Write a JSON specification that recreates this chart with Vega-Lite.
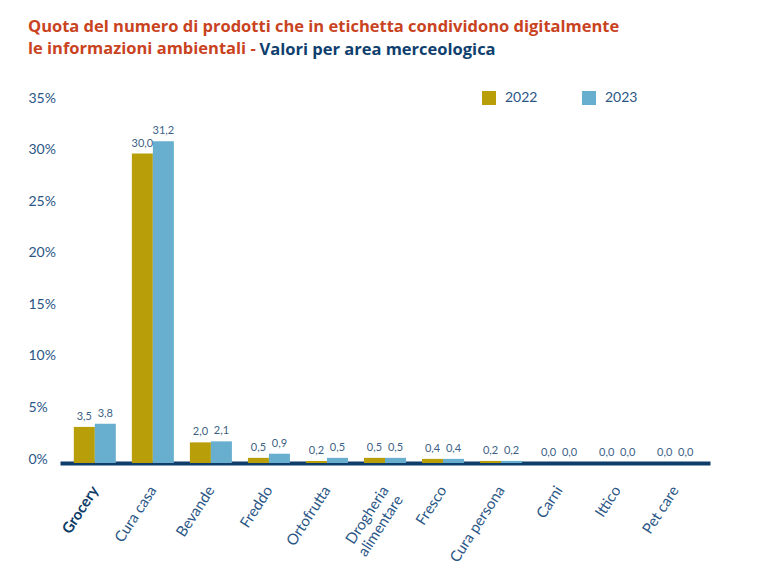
{
  "$schema": "https://vega.github.io/schema/vega-lite/v6.json",
  "autosize": {"type": "none"},
  "padding": {"left": 60, "top": 102, "right": 49, "bottom": 118},
  "width": 650,
  "height": 361,
  "background": "white",
  "config": {
    "locale": {"number": {"decimal": ",", "thousands": ".", "grouping": [3], "currency": ["€", ""]}},
    "font": "Lato",
    "view": {"stroke": null}
  },
  "title": {
    "text": ["Quota del numero di prodotti che in etichetta condividono digitalmente", "le informazioni ambientali -"],
    "subtitle": "\u200b\u00a0\u00a0\u00a0\u00a0\u00a0\u00a0\u00a0\u00a0\u00a0\u00a0\u00a0\u00a0\u00a0\u00a0\u00a0\u00a0\u00a0\u00a0\u00a0\u00a0\u00a0\u00a0\u00a0\u00a0\u00a0\u00a0\u00a0\u00a0\u00a0\u00a0\u00a0\u00a0\u00a0\u00a0\u00a0\u00a0\u00a0\u00a0\u00a0\u00a0\u00a0\u00a0\u00a0\u00a0\u00a0\u00a0\u00a0\u00a0\u00a0\u00a0\u00a0\u00a0\u00a0\u00a0Valori per area merceologica",
    "anchor": "start",
    "frame": "group",
    "dx": -32,
    "offset": 33,
    "font": "Open Sans",
    "fontSize": 16.5,
    "fontWeight": "bold",
    "color": "#c9431f",
    "lineHeight": 22,
    "subtitleFont": "Open Sans",
    "subtitleFontSize": 16.5,
    "subtitleFontWeight": "bold",
    "subtitleColor": "#0f3f6e",
    "subtitlePadding": -16
  },
  "data": {
    "values": [
      {"cat": "Grocery", "year": "2022", "value": 3.5},
      {"cat": "Grocery", "year": "2023", "value": 3.8},
      {"cat": "Cura casa", "year": "2022", "value": 30.0},
      {"cat": "Cura casa", "year": "2023", "value": 31.2},
      {"cat": "Bevande", "year": "2022", "value": 2.0},
      {"cat": "Bevande", "year": "2023", "value": 2.1},
      {"cat": "Freddo", "year": "2022", "value": 0.5},
      {"cat": "Freddo", "year": "2023", "value": 0.9},
      {"cat": "Ortofrutta", "year": "2022", "value": 0.2},
      {"cat": "Ortofrutta", "year": "2023", "value": 0.5},
      {"cat": "Drogheria alimentare", "year": "2022", "value": 0.5},
      {"cat": "Drogheria alimentare", "year": "2023", "value": 0.5},
      {"cat": "Fresco", "year": "2022", "value": 0.4},
      {"cat": "Fresco", "year": "2023", "value": 0.4},
      {"cat": "Cura persona", "year": "2022", "value": 0.2},
      {"cat": "Cura persona", "year": "2023", "value": 0.2},
      {"cat": "Carni", "year": "2022", "value": 0.0},
      {"cat": "Carni", "year": "2023", "value": 0.0},
      {"cat": "Ittico", "year": "2022", "value": 0.0},
      {"cat": "Ittico", "year": "2023", "value": 0.0},
      {"cat": "Pet care", "year": "2022", "value": 0.0},
      {"cat": "Pet care", "year": "2023", "value": 0.0}
    ]
  },
  "encoding": {
    "x": {
      "field": "cat",
      "type": "nominal",
      "sort": null,
      "scale": {"paddingInner": 0.276, "paddingOuter": 0.238},
      "axis": {
        "title": null,
        "labelAngle": -57,
        "labelFont": "Lato",
        "labelFontSize": 15,
        "labelColor": {"condition": {"test": "datum.value === 'Grocery'", "value": "#0d3b66"}, "value": "#2a5686"},
        "labelFontWeight": {"condition": {"test": "datum.value === 'Grocery'", "value": "bold"}, "value": "normal"},
        "labelExpr": "datum.label === 'Drogheria alimentare' ? ['Drogheria', 'alimentare'] : datum.label",
        "labelLineHeight": 17,
        "labelPadding": 24,
        "ticks": false,
        "domainColor": "#0f3d6b",
        "domainWidth": 4,
        "labelOverlap": false
      }
    },
    "xOffset": {"field": "year", "type": "nominal", "sort": ["2022", "2023"]},
    "y": {
      "field": "value",
      "type": "quantitative",
      "scale": {"domain": [0, 35]},
      "axis": {
        "title": null,
        "values": [0, 5, 10, 15, 20, 25, 30, 35],
        "labelExpr": "datum.value + '%'",
        "labelAlign": "left",
        "labelPadding": 32,
        "labelOffset": -4,
        "labelFont": "Lato",
        "labelFontSize": 14,
        "labelColor": "#2a5686",
        "ticks": false,
        "domain": false,
        "grid": false
      }
    },
    "color": {
      "field": "year",
      "type": "nominal",
      "scale": {"domain": ["2022", "2023"], "range": ["#b89e08", "#68aece"]},
      "legend": {
        "title": null,
        "orient": "none",
        "legendX": 422,
        "legendY": -11,
        "direction": "horizontal",
        "symbolType": "square",
        "symbolSize": 196,
        "symbolStrokeWidth": 0,
        "labelFont": "Lato",
        "labelFontSize": 14,
        "labelColor": "#2a5686",
        "labelOffset": 9,
        "columnPadding": 44
      }
    }
  },
  "layer": [
    {"mark": {"type": "bar"}},
    {
      "mark": {"type": "text", "baseline": "bottom", "dy": -5, "fontSize": 11, "font": "Lato", "color": "#3d5f85"},
      "encoding": {"text": {"field": "value", "type": "quantitative", "format": ".1f"}, "color": {"value": "#3d5f85"}}
    }
  ]
}
